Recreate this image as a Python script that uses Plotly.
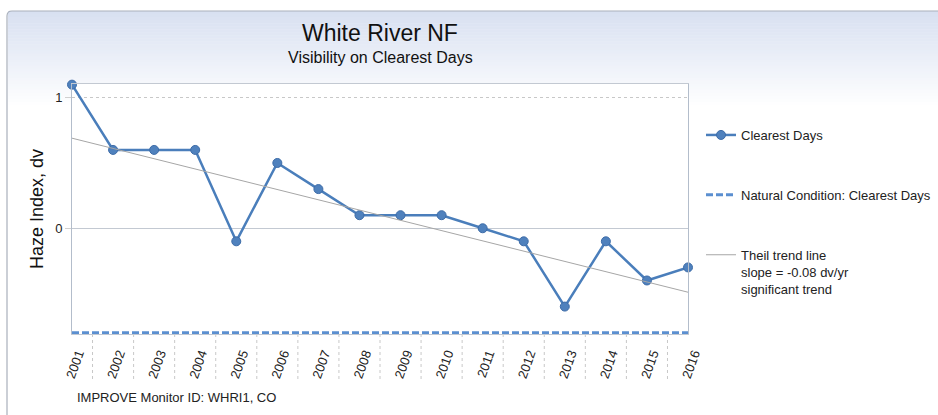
import plotly.graph_objects as go

years = list(range(2001, 2017))
year_labels = [str(y) for y in years]
clearest = [1.1, 0.6, 0.6, 0.6, -0.1, 0.5, 0.3, 0.1, 0.1, 0.1, 0.0, -0.1, -0.6, -0.1, -0.4, -0.3]
natural = [-0.8] * 16
trend_years = [2001, 2016]
trend_vals = [0.69, -0.49]

W, H = 938, 415
L, R, T, B = 72, 688, 84, 334
pw, ph = R - L, B - T

def px(x):
    return (x - L) / pw

def py(y):
    return (B - y) / ph

FONT = "Liberation Sans, Arial, sans-serif"

fig = go.Figure()
fig.add_trace(go.Scatter(
    x=years, y=clearest, mode="lines+markers", name="Clearest Days",
    line=dict(color="#4a7ebb", width=2.5),
    marker=dict(size=9, color="#4f81bd", line=dict(color="#3d6ca8", width=1)),
    cliponaxis=False, legendgroup="a"))
fig.add_trace(go.Scatter(
    x=years, y=natural, mode="lines", name="Natural Condition: Clearest Days",
    line=dict(color="#5b8fd0", width=3, dash="7px,3px"), legendgroup="b"))
fig.add_trace(go.Scatter(
    x=trend_years, y=trend_vals, mode="lines",
    name="Theil trend line<br>slope = -0.08 dv/yr<br>significant trend",
    line=dict(color="#a6a6a6", width=1), legendgroup="c"))

shapes = []
# gradient background panel
top_y, grad_end = 11, 108
n = 32
c0 = (216, 224, 241)
for i in range(n):
    y0 = top_y + (grad_end - top_y) * i / n
    y1 = top_y + (grad_end - top_y) * (i + 1) / n + 0.5
    t = i / (n - 1)
    c = tuple(round(c0[k] + (255 - c0[k]) * t) for k in range(3))
    shapes.append(dict(type="rect", xref="paper", yref="paper",
                       x0=px(8), x1=px(W + 5), y0=py(y1), y1=py(y0),
                       fillcolor="rgb(%d,%d,%d)" % c, line=dict(width=0), layer="below"))
# white plot area
shapes.append(dict(type="rect", xref="paper", yref="paper", x0=0, x1=1, y0=0, y1=1,
                   fillcolor="white", line=dict(width=0), layer="below"))
# panel border with rounded corner
r = 5
xl, yt = 7, 11
path = "M %f,%f L %f,%f Q %f,%f %f,%f L %f,%f" % (
    px(xl), py(H + 5), px(xl), py(yt + r), px(xl), py(yt), px(xl + r), py(yt), px(W + 5), py(yt))
shapes.append(dict(type="path", xref="paper", yref="paper", path=path,
                   line=dict(color="#a9b0bb", width=1.2), layer="below"))
# dotted category separators below the axis
for yv in years[:-1]:
    shapes.append(dict(type="line", xref="x", yref="paper", x0=yv + 0.5, x1=yv + 0.5,
                       y0=0, y1=py(382), line=dict(color="#c8c8c8", width=1, dash="dot"),
                       layer="below"))

fig.update_layout(
    width=W, height=H,
    margin=dict(l=L, r=W - R, t=T, b=H - B, autoexpand=False),
    paper_bgcolor="white", plot_bgcolor="white",
    font=dict(family=FONT, color="#222222", size=13),
    shapes=shapes,
    showlegend=True,
    legend=dict(x=px(701), y=py(120), xanchor="left", yanchor="top",
                bgcolor="rgba(0,0,0,0)", font=dict(size=13, color="#222222"),
                tracegroupgap=40, valign="top", itemwidth=30),
    annotations=[
        dict(text="White River NF", x=0.5, y=py(33), xref="paper", yref="paper",
             showarrow=False, font=dict(size=23, color="#111111"), xanchor="center", yanchor="middle"),
        dict(text="Visibility on Clearest Days", x=0.5, y=py(58), xref="paper", yref="paper",
             showarrow=False, font=dict(size=16, color="#111111"), xanchor="center", yanchor="middle"),
        dict(text="IMPROVE Monitor ID: WHRI1, CO", x=px(75), y=py(397), xref="paper", yref="paper",
             showarrow=False, font=dict(size=13, color="#222222"), xanchor="left", yanchor="middle"),
    ],
)
fig.update_xaxes(range=[2001, 2016], tickvals=years, ticktext=year_labels, tickangle=-70,
                 showgrid=False, zeroline=False, showline=True, mirror=True,
                 linecolor="#c3c9d2", linewidth=1, ticks="", tickfont=dict(size=13, color="#222222"),
                 ticklabelshift=6, ticklabelstandoff=6)
fig.update_yaxes(range=[-0.81, 1.105], tickvals=[0, 1], showgrid=True, gridcolor="#c8c8c8",
                 griddash="dot", zeroline=True, zerolinecolor="#c3c9d2", zerolinewidth=1,
                 showline=True, mirror=True, linecolor="#b3bdcb", linewidth=1,
                 ticks="outside", ticklen=6, tickcolor="#d0d0d0",
                 tickfont=dict(size=13, color="#222222"),
                 title=dict(text="Haze Index, dv", font=dict(size=18, color="#111111"), standoff=6))

fig.write_html("out.html", config={"displayModeBar": False},
               post_script="document.body.style.margin='0';")
